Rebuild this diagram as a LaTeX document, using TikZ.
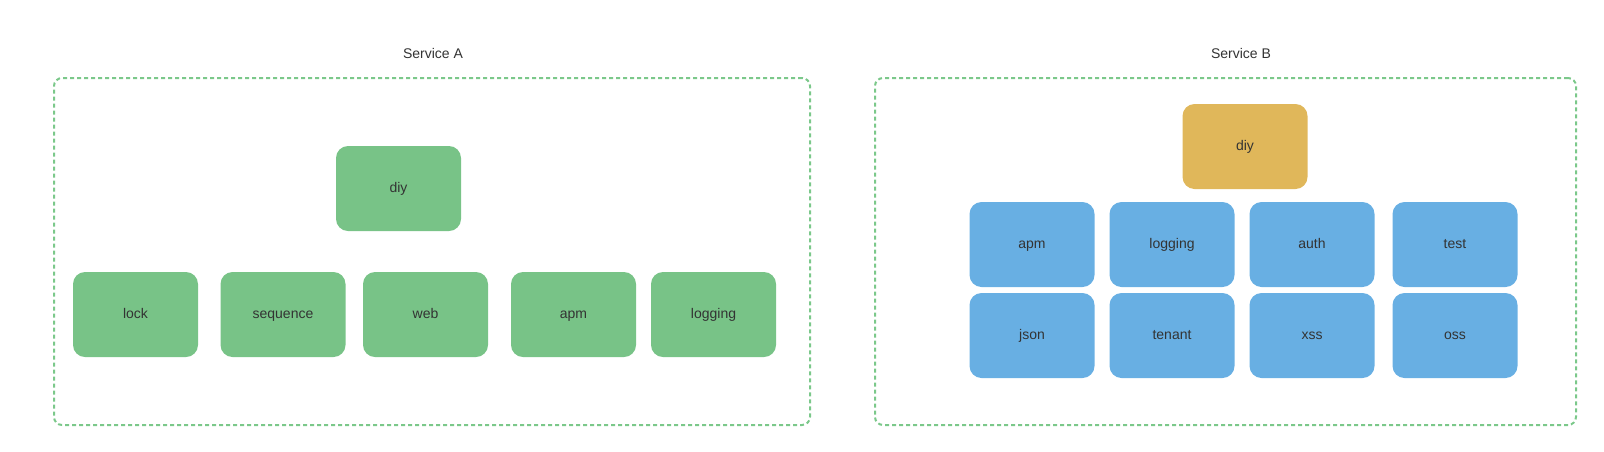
\documentclass[tikz,border=0pt]{standalone}
\usepackage{fontspec}
\setmainfont{Liberation Sans}
\usepackage{xcolor}
\definecolor{boxgreen}{RGB}{120,195,135}
\definecolor{boxblue}{RGB}{104,175,227}
\definecolor{boxgold}{RGB}{224,183,90}
\definecolor{framegreen}{RGB}{123,200,138}
\definecolor{textgray}{RGB}{51,51,51}
\begin{document}
\begin{tikzpicture}[x=1pt,y=-1pt,
  mod/.style={rounded corners=12pt,minimum width=125pt,minimum height=85pt,inner sep=0pt,
    text height=10pt,text depth=3pt,text=textgray,font=\fontsize{14}{16}\selectfont},
  green mod/.style={mod,fill=boxgreen},
  blue mod/.style={mod,fill=boxblue},
  gold mod/.style={mod,fill=boxgold},
  frame/.style={draw=framegreen,line width=2pt,dash pattern=on 4pt off 3pt,rounded corners=8pt,minimum height=347pt,inner sep=0pt},
  title/.style={text height=10pt,text depth=3pt,text=textgray,font=\fontsize{14}{16}\selectfont}]
\useasboundingbox (0,0) rectangle (1604,451);

\node[frame,minimum width=756pt](fa) at(432,251.5){};
\node[frame,minimum width=701pt](fb) at(1225.5,251.5){};
\node[title](ta) at(433,55){Service A};
\node[title](tb) at(1241,55){Service B};

% Service A
\node[green mod](a0) at(398.5,188.5){diy};
\node[green mod](a1) at(135.5,314.5){lock};
\node[green mod](a2) at(283,314.5){sequence};
\node[green mod](a3) at(425.5,314.5){web};
\node[green mod](a4) at(573.5,314.5){apm};
\node[green mod](a5) at(713.5,314.5){logging};

% Service B
\node[gold mod](b0) at(1245,146.5){diy};
\node[blue mod](b1) at(1032,244.5){apm};
\node[blue mod](b2) at(1172,244.5){logging};
\node[blue mod](b3) at(1312,244.5){auth};
\node[blue mod](b4) at(1455,244.5){test};
\node[blue mod](b5) at(1032,335.5){json};
\node[blue mod](b6) at(1172,335.5){tenant};
\node[blue mod](b7) at(1312,335.5){xss};
\node[blue mod](b8) at(1455,335.5){oss};
\end{tikzpicture}
\end{document}
